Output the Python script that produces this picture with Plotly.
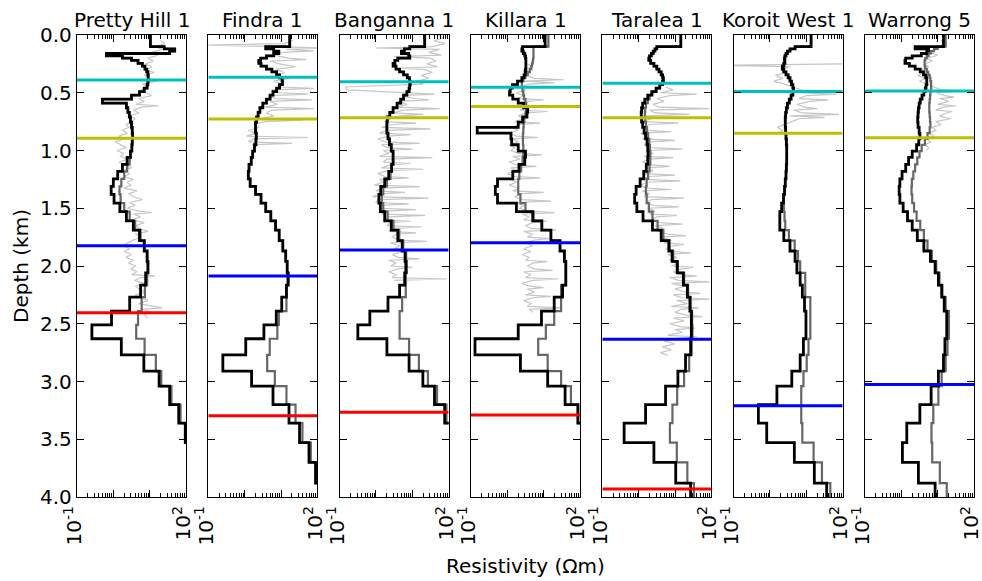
import plotly.graph_objects as go

WELLS = ["Pretty Hill 1", "Findra 1", "Banganna 1", "Killara 1",
         "Taralea 1", "Koroit West 1", "Warrong 5"]

# Tops of the layered resistivity models (km); the last layer ends at MODEL_BASE
LAYER_TOPS = [0.0, 0.10, 0.12, 0.14, 0.16, 0.18, 0.20, 0.22, 0.245, 0.27,
              0.295, 0.32, 0.345, 0.37, 0.40, 0.43, 0.46, 0.49, 0.52, 0.555,
              0.59, 0.63, 0.67, 0.71, 0.755, 0.80, 0.85, 0.90, 0.95, 1.005,
              1.06, 1.12, 1.18, 1.245, 1.31, 1.38, 1.455, 1.53, 1.61, 1.69,
              1.78, 1.87, 1.96, 2.06, 2.165, 2.27, 2.39, 2.51, 2.63, 2.77,
              2.91, 3.04, 3.20, 3.36, 3.53, 3.70, 3.88]
MODEL_BASE = 4.07

# log10 resistivity per layer: inverted model (black) and reference model (grey)
PH_INV = [1.02, 1.40, 1.69, 1.55, -0.19, 0.25, 0.50, 0.68, 0.80, 0.87,
          0.92, 0.95, 0.96, 0.96, 0.95, 0.93, 0.85, 0.72, 0.50, -0.30,
          0.36, 0.40, 0.44, 0.47, 0.50, 0.52, 0.53, 0.52, 0.51, 0.47,
          0.38, 0.25, 0.12, 0.00, -0.06, 0.02, 0.18, 0.36, 0.55, 0.72,
          0.85, 0.93, 0.95, 0.89, 0.75, 0.45, -0.05, -0.59, 0.22, 0.84,
          1.26, 1.55, 1.80, 1.98, 2.30, 2.50, 2.60]
PH_REF = [1.02, 1.40, 1.69, 1.55, -0.19, 0.25, 0.50, 0.68, 0.80, 0.87,
          0.92, 0.95, 0.96, 0.96, 0.95, 0.93, 0.85, 0.72, 0.50, -0.30,
          0.36, 0.40, 0.44, 0.47, 0.50, 0.52, 0.53, 0.52, 0.51, 0.47,
          0.45, 0.38, 0.30, 0.22, 0.17, 0.20, 0.30, 0.45, 0.60, 0.75,
          0.86, 0.93, 0.96, 0.93, 0.87, 0.78, 0.68, 0.63, 0.86, 1.17,
          1.32, 1.60, 1.85, 2.00, 2.30, 2.50, 2.60]

FI_INV = [1.24, 0.58, 0.80, 0.94, 0.80, 0.60, 0.44, 0.39, 0.45, 0.60,
          0.75, 0.88, 0.96, 1.03, 1.04, 0.96, 0.88, 0.78, 0.70, 0.60,
          0.50, 0.42, 0.37, 0.33, 0.30, 0.30, 0.32, 0.31, 0.27, 0.22,
          0.18, 0.12, 0.10, 0.15, 0.30, 0.45, 0.58, 0.72, 0.85, 0.95,
          1.05, 1.13, 1.17, 1.20, 1.15, 1.02, 0.87, 0.53, 0.03, -0.60,
          0.19, 0.78, 1.22, 1.51, 1.77, 1.95, 2.30]
FI_REF = [1.24, 0.58, 0.80, 0.94, 0.80, 0.60, 0.44, 0.39, 0.45, 0.60,
          0.75, 0.88, 0.96, 1.03, 1.04, 0.96, 0.88, 0.78, 0.70, 0.60,
          0.50, 0.42, 0.37, 0.33, 0.30, 0.30, 0.32, 0.31, 0.27, 0.22,
          0.18, 0.12, 0.10, 0.15, 0.30, 0.45, 0.58, 0.72, 0.85, 0.95,
          1.05, 1.13, 1.17, 1.18, 1.15, 1.15, 0.94, 0.90, 0.69, 0.62,
          0.83, 1.15, 1.40, 1.59, 1.82, 1.97, 2.30]

BA_INV = [1.34, 0.93, 0.78, 0.70, 0.90, 0.93, 0.60, 0.52, 0.47, 0.55,
          0.65, 0.76, 0.86, 0.92, 0.94, 0.93, 0.91, 0.85, 0.76, 0.68,
          0.58, 0.47, 0.38, 0.31, 0.30, 0.30, 0.33, 0.37, 0.42, 0.47,
          0.47, 0.43, 0.35, 0.24, 0.13, 0.08, 0.12, 0.24, 0.42, 0.60,
          0.72, 0.80, 0.82, 0.79, 0.65, 0.33, -0.17, -0.50, 0.30, 0.91,
          1.29, 1.61, 1.89, 2.30, 2.50, 2.60, 2.70]
BA_REF = [1.34, 0.93, 0.78, 0.70, 0.90, 0.93, 0.60, 0.52, 0.47, 0.55,
          0.65, 0.76, 0.86, 0.92, 0.94, 0.93, 0.91, 0.85, 0.76, 0.68,
          0.58, 0.47, 0.38, 0.31, 0.30, 0.30, 0.33, 0.37, 0.42, 0.47,
          0.47, 0.43, 0.40, 0.30, 0.20, 0.16, 0.20, 0.32, 0.48, 0.64,
          0.75, 0.83, 0.85, 0.82, 0.82, 0.72, 0.65, 0.65, 0.91, 1.18,
          1.43, 1.68, 1.94, 2.30, 2.50, 2.60, 2.70]

KI_INV = [1.04, 0.42, 0.40, 0.44, 0.48, 0.50, 0.51, 0.51, 0.51, 0.51,
          0.50, 0.49, 0.46, 0.40, 0.28, 0.14, 0.08, 0.06, 0.15, 0.30,
          0.45, 0.56, 0.54, 0.42, 0.30, -0.83, 0.10, 0.12, 0.30, 0.50,
          0.48, 0.32, 0.15, -0.27, -0.33, -0.27, 0.25, 0.70, 0.95, 1.20,
          1.45, 1.57, 1.61, 1.61, 1.52, 1.29, 0.94, 0.30, -0.89, 0.36,
          1.11, 1.59, 1.94, 2.30, 2.50, 2.60, 2.70]
KI_REF = [1.13, 0.72, 0.72, 0.72, 0.72, 0.72, 0.71, 0.70, 0.68, 0.66,
          0.62, 0.56, 0.50, 0.44, 0.40, 0.40, 0.42, 0.44, 0.46, 0.50,
          0.52, 0.52, 0.50, 0.47, 0.45, 0.44, 0.43, 0.43, 0.44, 0.44,
          0.42, 0.38, 0.33, 0.30, 0.30, 0.36, 0.50, 0.72, 0.95, 1.20,
          1.45, 1.57, 1.61, 1.61, 1.48, 1.48, 1.29, 1.06, 0.85, 1.11,
          1.48, 1.75, 1.95, 2.30, 2.50, 2.60, 2.70]

TA_INV = [1.16, 0.50, 0.45, 0.40, 0.35, 0.30, 0.28, 0.33, 0.42, 0.50,
          0.56, 0.62, 0.66, 0.68, 0.66, 0.58, 0.48, 0.36, 0.25, 0.17,
          0.11, 0.08, 0.07, 0.08, 0.11, 0.15, 0.19, 0.23, 0.25, 0.26,
          0.25, 0.21, 0.14, 0.04, -0.07, -0.11, -0.05, 0.12, 0.38, 0.62,
          0.83, 0.92, 1.06, 1.23, 1.34, 1.41, 1.45, 1.45, 1.43, 1.29,
          1.08, 0.74, 0.19, -0.40, 0.42, 1.02, 1.43]
TA_REF = [1.16, 0.50, 0.45, 0.40, 0.35, 0.30, 0.28, 0.33, 0.42, 0.50,
          0.56, 0.62, 0.66, 0.68, 0.66, 0.58, 0.48, 0.38, 0.30, 0.25,
          0.20, 0.18, 0.17, 0.18, 0.20, 0.23, 0.26, 0.29, 0.31, 0.32,
          0.32, 0.30, 0.26, 0.22, 0.20, 0.22, 0.28, 0.38, 0.52, 0.68,
          0.85, 0.95, 1.08, 1.25, 1.36, 1.43, 1.47, 1.48, 1.46, 1.39,
          1.25, 1.06, 0.93, 0.86, 1.05, 1.34, 1.52]

KO_INV = [1.13, 0.69, 0.55, 0.48, 0.44, 0.41, 0.40, 0.41, 0.38, 0.34,
          0.38, 0.44, 0.50, 0.55, 0.59, 0.63, 0.65, 0.63, 0.58, 0.53,
          0.48, 0.45, 0.43, 0.42, 0.42, 0.43, 0.44, 0.45, 0.46, 0.46,
          0.46, 0.45, 0.44, 0.42, 0.40, 0.37, 0.32, 0.27, 0.27, 0.38,
          0.55, 0.69, 0.74, 0.83, 0.89, 0.95, 0.99, 0.99, 0.92, 0.83,
          0.60, 0.19, -0.32, -0.09, 0.67, 1.22, 1.56]
KO_REF = [1.13, 0.69, 0.55, 0.48, 0.44, 0.41, 0.40, 0.41, 0.38, 0.34,
          0.38, 0.44, 0.50, 0.55, 0.59, 0.63, 0.65, 0.63, 0.58, 0.53,
          0.48, 0.45, 0.43, 0.42, 0.42, 0.43, 0.44, 0.45, 0.46, 0.46,
          0.46, 0.45, 0.44, 0.42, 0.40, 0.38, 0.38, 0.40, 0.42, 0.52,
          0.68, 0.77, 0.83, 0.97, 0.97, 1.11, 1.11, 1.11, 1.06, 1.01,
          0.92, 0.86, 0.86, 0.89, 1.20, 1.43, 1.66]

WA_INV = [1.16, 0.38, 0.75, 0.70, 0.55, 0.30, 0.12, 0.10, 0.22, 0.38,
          0.52, 0.61, 0.67, 0.70, 0.70, 0.68, 0.66, 0.62, 0.57, 0.52,
          0.49, 0.47, 0.46, 0.45, 0.46, 0.49, 0.51, 0.48, 0.42, 0.30,
          0.20, 0.12, 0.02, -0.04, -0.06, -0.04, 0.05, 0.17, 0.30, 0.44,
          0.62, 0.80, 0.93, 1.02, 1.11, 1.18, 1.25, 1.25, 1.20, 1.16,
          1.02, 0.82, 0.51, 0.15, 0.03, 0.47, 0.93]
WA_REF = [1.22, 1.00, 0.90, 0.82, 0.75, 0.70, 0.66, 0.64, 0.64, 0.66,
          0.70, 0.74, 0.78, 0.80, 0.82, 0.82, 0.82, 0.80, 0.79, 0.78,
          0.77, 0.77, 0.78, 0.79, 0.80, 0.78, 0.72, 0.65, 0.56, 0.50,
          0.44, 0.38, 0.33, 0.29, 0.28, 0.30, 0.35, 0.42, 0.52, 0.62,
          0.72, 0.84, 0.96, 1.05, 1.13, 1.22, 1.31, 1.31, 1.27, 1.22,
          1.11, 1.02, 0.88, 0.83, 0.85, 1.06, 1.25]

# Well logs: first sample depth (km), log10 resistivity every LOG_STEP km,
# and isolated spikes as (depth, log10 resistivity)
LOG_STEP = 0.025

PH_LOG_TOP = 0.05
PH_LOG = [1.30, 1.42, 1.15, 1.35, 1.05, 1.22, 0.95, 1.10, 0.88, 1.05,
          0.92, 1.12, 0.85, 0.98, 1.20, 0.80, 0.95, 0.75, 0.90, 1.05,
          0.70, 0.85, 0.62, 0.78, 0.55, 0.70, 0.45, 0.60, 0.50, 0.35,
          0.42, 0.25, 0.38, 0.15, 0.30, 0.05, 0.22, 0.35, 0.10, 0.28,
          0.20, 0.40, 0.15, 0.32, 0.50, 0.25, 0.45, 0.30, 0.55, 0.38,
          0.48, 0.30, 0.65, 0.42, 0.55, 0.80, 0.45, 0.60, 0.38, 0.70,
          0.55, 0.75, 0.50, 0.85, 0.62, 0.72, 0.95, 0.60, 0.78, 0.55,
          0.40, 0.25, 0.45, 0.30, 0.50, 0.35, 0.55, 0.42, 0.62, 0.48,
          0.65, 0.50, 0.75, 0.58, 0.85, 0.62, 0.70, 0.90, 0.60, 0.78,
          0.95, 0.70, 1.10, 0.80, 1.05, 0.85, 0.95]
PH_SPIKES = [(0.6125, 1.25), (1.5375, 1.05), (2.0875, 1.15), (2.3625, 1.35)]

FI_LOG_TOP = 0.025
FI_LOG = [1.20, 1.30, 1.10, 0.90, 1.15, 1.05, 0.80, 1.20, 0.70, 0.95,
          1.40, 0.85, 1.10, 0.90, 1.25, 0.80, 1.05, 0.95, 0.75, 1.00,
          0.65, 0.85, 0.70, 0.90, 0.55, 0.75, 0.60, 0.80, 0.45, 0.55,
          0.25, 0.40, 0.10, 0.30, 0.05, 0.25, 0.10, 0.20]
FI_SPIKES = [(0.0875, -1.2), (0.1125, 2.2), (0.1375, 1.9), (0.2125, 1.7),
             (0.4625, 1.9), (0.5125, 1.75), (0.5625, 1.85), (0.6375, 1.9),
             (0.7375, 1.6), (0.8875, 1.75), (0.9375, 1.3)]

BA_LOG_TOP = 0.0
BA_LOG = [1.70, 1.85, 1.60, 1.90, 1.55, 1.75, 1.45, 1.80, 1.50, 1.65,
          1.40, 1.70, 1.35, 1.55, 1.25, 1.45, 1.10, 1.30, -0.85, -0.80,
          0.90, 0.70, 1.05, 0.60, 0.85, 0.55, 0.75, 0.45, 0.65, 0.40,
          0.25, 0.45, 0.15, 0.30, 0.10, 0.35, 0.05, 0.25, 0.15, 0.30,
          0.20, 0.35, 0.10, 0.30, 0.20, 0.40, 0.15, 0.30, 0.05, 0.25,
          0.10, 0.20, -0.05, 0.15, 0.00, 0.10, -0.10, 0.05, 0.00, 0.15,
          0.10, 0.25, 0.15, 0.35, 0.20, 0.40, 0.30, 0.50, 0.35, 0.55,
          0.45, 0.60, 0.40, 0.65, 0.50, 0.70, 0.45, 0.60, 0.35, 0.55,
          0.40, 0.60, 0.35, 0.55, 0.45, 0.50]
BA_SPIKES = [(0.1125, 0.0), (0.1875, 0.5), (0.2875, 0.7), (0.5125, 1.6),
             (0.5625, 1.45), (0.6375, 1.75), (0.6875, 1.3), (0.7625, 1.1),
             (0.8125, 1.5), (0.8625, 0.95), (0.9375, 1.2), (0.9875, 1.0),
             (1.0625, 1.55), (1.1125, 0.95), (1.1625, 1.3), (1.2375, 0.9),
             (1.3125, 1.2), (1.3625, 0.8), (1.4125, 1.45), (1.4625, 0.9),
             (1.5125, 1.1), (1.5625, 1.35), (1.6125, 0.95), (1.6625, 1.25),
             (1.7125, 1.1), (1.7875, 1.4), (1.8625, 1.05), (1.9375, 1.2),
             (2.0125, 1.0), (2.1125, 1.95)]

KI_LOG_TOP = 0.25
KI_LOG = [0.55, 0.70, 0.45, 0.65, 0.50, 0.75, 0.40, 0.60, 0.35, 0.50,
          0.25, 0.45, 0.30, 0.55, 0.40, 0.60, 0.35, 0.50, 0.30, 0.45,
          0.20, 0.35, 0.10, 0.30, 0.05, 0.25, 0.15, 0.30, 0.05, 0.20,
          0.10, 0.30, 0.15, 0.35, 0.05, 0.25, 0.10, 0.30, 0.00, 0.20,
          0.10, 0.25, 0.05, 0.30, 0.15, 0.35, 0.20, 0.40, 0.25, 0.45,
          0.35, 0.55, 0.40, 0.60, 0.45, 0.70, 0.50, 0.65, 0.45, 0.70,
          0.55, 0.75, 0.50, 0.70, 0.45, 0.65, 0.40, 0.60, 0.50, 0.70,
          0.55, 0.75, 0.45, 0.65, 0.50, 0.70, 0.40, 0.60, 0.55, 0.75,
          0.50, 0.70, 0.45, 0.65, 0.55, 0.60, 0.70]
KI_SPIKES = [(0.3875, 1.55), (0.4125, 1.3), (0.5625, 1.0), (0.6625, 1.1),
             (0.7625, 0.9), (0.8875, 0.85), (1.0375, 0.95), (1.1375, 0.8),
             (1.2375, 0.9), (1.3625, 1.0), (1.4375, 1.2), (1.5375, 1.3),
             (1.6125, 1.1), (1.6875, 1.35), (1.7625, 1.15), (1.9625, 1.1),
             (2.0375, 1.25), (2.1125, 1.4), (2.1875, 1.0), (2.2625, 1.2),
             (2.3625, 1.5)]

TA_LOG_TOP = 0.45
TA_LOG = [0.75, 0.95, 0.60, 0.85, 0.50, 0.70, 0.40, 0.55, 0.30, 0.45,
          0.20, 0.35, 0.10, 0.30, 0.15, 0.25, 0.05, 0.20, 0.10, 0.30,
          0.15, 0.35, 0.20, 0.40, 0.15, 0.30, 0.10, 0.35, 0.20, 0.40,
          0.15, 0.30, 0.10, 0.25, 0.05, 0.20, 0.10, 0.30, 0.15, 0.35,
          0.20, 0.40, 0.25, 0.45, 0.30, 0.50, 0.35, 0.60, 0.45, 0.70,
          0.55, 0.80, 0.60, 0.90, 0.70, 0.95, 0.75, 1.00, 0.80, 1.05,
          0.85, 1.10, 0.90, 1.20, 0.95, 1.15, 0.85, 1.10, 0.90, 1.25,
          1.00, 1.30, 0.95, 1.20, 1.05, 1.35, 0.90, 1.15, 1.00, 1.30,
          0.95, 1.25, 0.85, 1.15, 1.00, 1.20, 0.80, 1.10, 0.70, 1.00,
          0.65, 0.90, 0.60, 0.80]
TA_SPIKES = [(0.5125, 1.6), (0.6375, 1.95), (0.6875, 1.4), (0.7625, 1.1),
             (0.8375, 0.9), (0.9125, 1.0), (0.9875, 1.2), (1.0625, 0.95),
             (1.1375, 0.85), (1.2125, 1.0), (1.2625, 1.15), (1.3375, 0.9),
             (1.4125, 1.25), (1.4875, 1.1), (1.5625, 1.05), (1.6375, 1.2),
             (1.7375, 1.3), (1.8125, 1.25), (1.8875, 1.45), (2.0125, 1.5),
             (2.0875, 1.6), (2.1375, 1.95), (2.2375, 1.7), (2.2875, 1.95),
             (2.3625, 1.65), (2.4375, 1.75), (2.5375, 1.55), (2.6125, 1.6)]

KO_LOG_TOP = 0.25
KO_LOG = [2.20, 0.55, 0.30, 0.45, 0.15, 0.35, 0.10, 0.40, 0.60, 0.85, 0.70,
          1.00, 0.80, 1.10, 0.75, 0.95, 0.65, 0.90, 0.55, 0.80, 0.60,
          0.40, 0.20, 0.35, 0.25]
KO_SPIKES = [(0.2625, -1.3), (0.4875, 1.75), (0.5125, 1.85), (0.5625, 1.6),
             (0.6375, 1.3), (0.6875, 1.9), (0.7125, 1.5)]

WA_LOG_TOP = 0.025
WA_LOG = [1.20, 1.10, 1.25, 1.05, 0.95, 0.80, 1.00, 0.70, 0.85, 0.65,
          0.75, 0.55, 0.70, 0.45, 0.65, 0.50, 0.75, 0.90, 1.10, 0.95,
          1.20, 1.05, 1.30, 1.00, 1.15, 0.95, 1.25, 1.05, 1.35, 0.95,
          1.10, 0.85, 0.95, 0.75, 0.90, 0.70, 0.80, 0.65, 0.75, 0.70]
WA_SPIKES = [(0.4875, 1.6), (0.5375, 1.45), (0.6125, 1.5), (0.6625, 1.4)]

# Formation horizons (km); None where the horizon is absent
CYAN_TOPS = [0.39, 0.366, 0.404, 0.453, 0.418, 0.49, 0.485]
OLIVE_TOPS = [0.895, 0.727, 0.716, 0.62, 0.716, 0.851, 0.889]
BLUE_TOPS = [1.824, 2.087, 1.861, 1.798, 2.635, 3.21, 3.025]
RED_TOPS = [2.404, 3.296, 3.267, 3.29, 3.93, None, None]

INV_MODELS = [PH_INV, FI_INV, BA_INV, KI_INV, TA_INV, KO_INV, WA_INV]
REF_MODELS = [PH_REF, FI_REF, BA_REF, KI_REF, TA_REF, KO_REF, WA_REF]
LOGS = [(PH_LOG_TOP, PH_LOG, PH_SPIKES), (FI_LOG_TOP, FI_LOG, FI_SPIKES),
        (BA_LOG_TOP, BA_LOG, BA_SPIKES), (KI_LOG_TOP, KI_LOG, KI_SPIKES),
        (TA_LOG_TOP, TA_LOG, TA_SPIKES), (KO_LOG_TOP, KO_LOG, KO_SPIKES),
        (WA_LOG_TOP, WA_LOG, WA_SPIKES)]

FONT = "DejaVu Sans"
FS = 20
X_MIN, X_MAX = 0.1, 100.0


def step_profile(values):
    x = [10 ** v for v in values] + [10 ** values[-1]]
    y = LAYER_TOPS + [MODEL_BASE]
    return x, y


def well_log(top, values, spikes):
    pts = [(top + k * LOG_STEP, v) for k, v in enumerate(values)] + list(spikes)
    pts.sort()
    return [10 ** p[1] for p in pts], [p[0] for p in pts]


fig = go.Figure()

n = len(WELLS)
panel_w = 109 / 897
gap = (1 - n * panel_w) / (n - 1)
minor_vals = [m * 10 ** e for e in (-1, 0, 1) for m in range(2, 10)]
depth_ticks = [0.0, 0.5, 1.0, 1.5, 2.0, 2.5, 3.0, 3.5, 4.0]

for i, well in enumerate(WELLS):
    xa = "x" if i == 0 else f"x{i + 1}"
    ya = "y" if i == 0 else f"y{i + 1}"

    lx, ly = well_log(*LOGS[i])
    fig.add_trace(go.Scatter(x=lx, y=ly, xaxis=xa, yaxis=ya, mode="lines",
                             line=dict(color="#c6c6c6", width=1.2)))

    rx, ry = step_profile(REF_MODELS[i])
    fig.add_trace(go.Scatter(x=rx, y=ry, xaxis=xa, yaxis=ya, mode="lines",
                             line=dict(color="#666666", width=2.2, shape="vh")))

    bx, by = step_profile(INV_MODELS[i])
    fig.add_trace(go.Scatter(x=bx, y=by, xaxis=xa, yaxis=ya, mode="lines",
                             line=dict(color="black", width=2.8, shape="vh")))

    for tops, color in ((CYAN_TOPS, "#00bfbf"), (OLIVE_TOPS, "#bfbf00"),
                        (BLUE_TOPS, "#0000ff"), (RED_TOPS, "#ff0000")):
        d = tops[i]
        if d is None:
            continue
        fig.add_trace(go.Scatter(x=[X_MIN, X_MAX], y=[d, d], xaxis=xa, yaxis=ya,
                                 mode="lines", line=dict(color=color, width=3)))

    x0 = i * (panel_w + gap)
    fig.layout[xa.replace("x", "xaxis")] = dict(
        domain=[x0, x0 + panel_w], anchor=ya, type="log", automargin=False,
        range=[-1, 2], showgrid=False, zeroline=False,
        showline=True, linecolor="black", linewidth=1.3, mirror="ticks",
        ticks="inside", ticklen=7, tickwidth=1, tickcolor="black",
        tickvals=[0.1, 1, 10, 100],
        ticktext=["10<sup>-1</sup>", "", "", "10<sup>2</sup>"],
        tickangle=-90, ticklabeloverflow="allow", ticklabelshift=-2,
        tickfont=dict(family=FONT, size=FS, color="black"),
        minor=dict(ticks="inside", ticklen=3.5, tickwidth=1, tickcolor="black",
                   tickmode="array", tickvals=minor_vals, showgrid=False),
    )
    fig.layout[ya.replace("y", "yaxis")] = dict(
        domain=[0, 1], anchor=xa, range=[4, 0], automargin=False,
        showgrid=False, zeroline=False,
        showline=True, linecolor="black", linewidth=1.3, mirror="ticks",
        ticks="inside", ticklen=7, tickwidth=1, tickcolor="black",
        tickvals=depth_ticks, ticktext=[f"{v:.1f}" for v in depth_ticks],
        showticklabels=(i == 0),
        tickfont=dict(family=FONT, size=FS, color="black"),
    )
    fig.add_annotation(text=well, xref=f"{xa} domain", yref="paper",
                       x=0.5, y=1, yanchor="bottom", yshift=1, showarrow=False,
                       font=dict(family=FONT, size=FS, color="black"))

fig.add_annotation(text="Depth (km)", xref="paper", yref="paper", x=0, y=0.5,
                   xanchor="center", yanchor="middle", xshift=-56, textangle=-90,
                   showarrow=False, font=dict(family=FONT, size=FS, color="black"))
fig.add_annotation(text="Resistivity (Ωm)", xref="paper", yref="paper", x=0.5, y=0,
                   xanchor="center", yanchor="middle", yshift=-69,
                   showarrow=False, font=dict(family=FONT, size=FS, color="black"))

fig.update_layout(width=982, height=581, showlegend=False,
                  margin=dict(l=77, r=8, t=35, b=84),
                  paper_bgcolor="white", plot_bgcolor="white")

fig.write_html("out.html")
